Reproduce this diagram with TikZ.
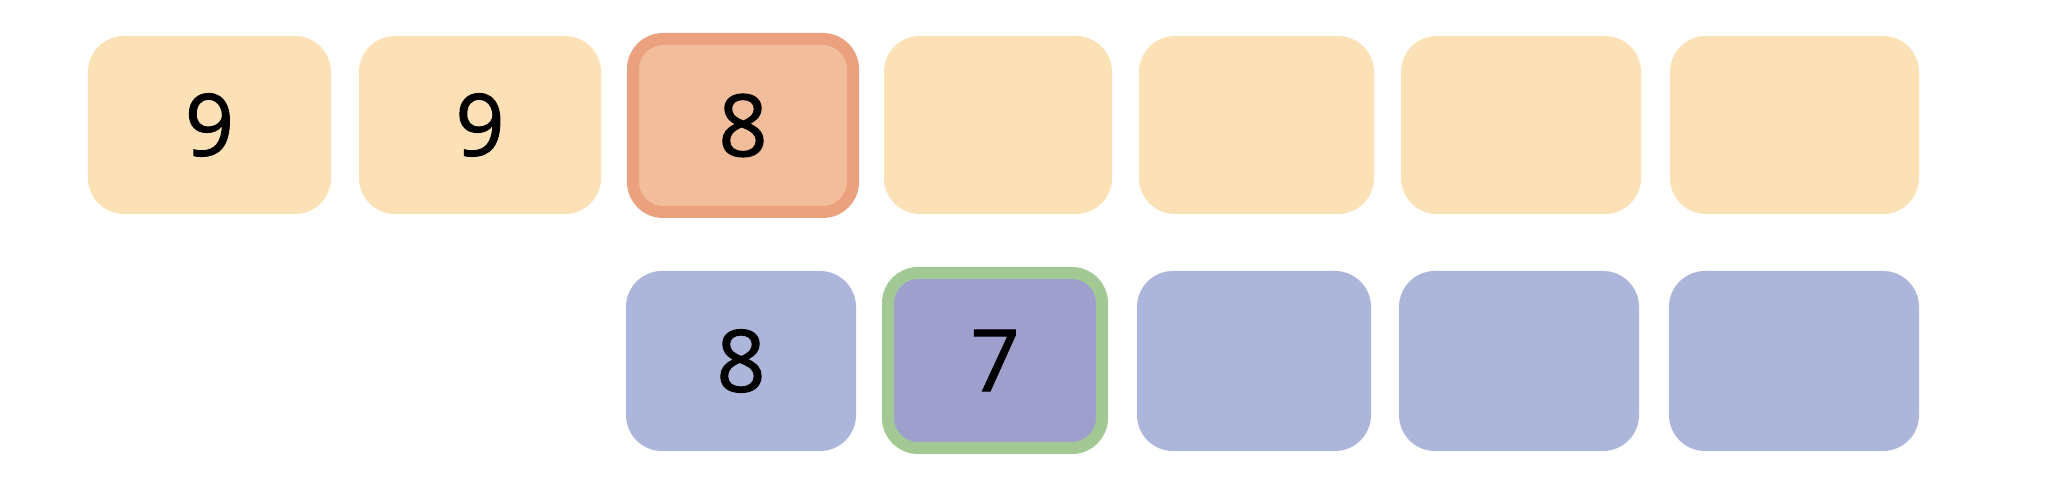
\documentclass[tikz,border=0pt]{standalone}
\usepackage{fontspec}
\setmainfont{Open Sans}
\newfontfamily\digitfont{Open Sans}[FakeBold=1.2]
\definecolor{cellyellow}{HTML}{FDE1B6}
\definecolor{cellorange}{HTML}{F2BD9A}
\definecolor{edgeorange}{HTML}{EBA07E}
\definecolor{cellblue}{HTML}{ACB5DA}
\definecolor{cellpurple}{HTML}{9F9FCE}
\definecolor{edgegreen}{HTML}{A2C993}
\tikzset{
  cell/.style={rectangle, rounded corners=36bp, inner sep=0pt, draw=none,
    font=\digitfont\fontsize{86bp}{86bp}\selectfont, text height=61.4bp, text depth=0pt},
  topcell/.style={cell, fill=cellyellow, minimum height=178bp},
  botcell/.style={cell, fill=cellblue, minimum height=180bp},
  hitop/.style={cell, fill=cellorange, draw=edgeorange, line width=12bp,
    minimum width=220bp, minimum height=173bp, rounded corners=30bp},
  hibot/.style={cell, fill=cellpurple, draw=edgegreen, line width=12bp,
    minimum width=214bp, minimum height=175bp, rounded corners=30bp}
}
\begin{document}
\begin{tikzpicture}[x=1bp,y=1bp]
\useasboundingbox[fill=white] (0,0) rectangle (2061,496);
% top row
\node[topcell, minimum width=243bp] (t1) at (209.5,371) {9};
\node[topcell, minimum width=242bp] (t2) at (480,371) {9};
\node[hitop] (t3) at (743,370.5) {8};
\node[topcell, minimum width=228bp] (t4) at (998,371) {};
\node[topcell, minimum width=235bp] (t5) at (1256.5,371) {};
\node[topcell, minimum width=240bp] (t6) at (1521,371) {};
\node[topcell, minimum width=249bp] (t7) at (1794.5,371) {};
% bottom row
\node[botcell, minimum width=230bp] (b1) at (741,135) {8};
\node[hibot] (b2) at (995,135.5) {7};
\node[botcell, minimum width=234bp] (b3) at (1254,135) {};
\node[botcell, minimum width=240bp] (b4) at (1519,135) {};
\node[botcell, minimum width=250bp] (b5) at (1794,135) {};
\end{tikzpicture}
\end{document}
